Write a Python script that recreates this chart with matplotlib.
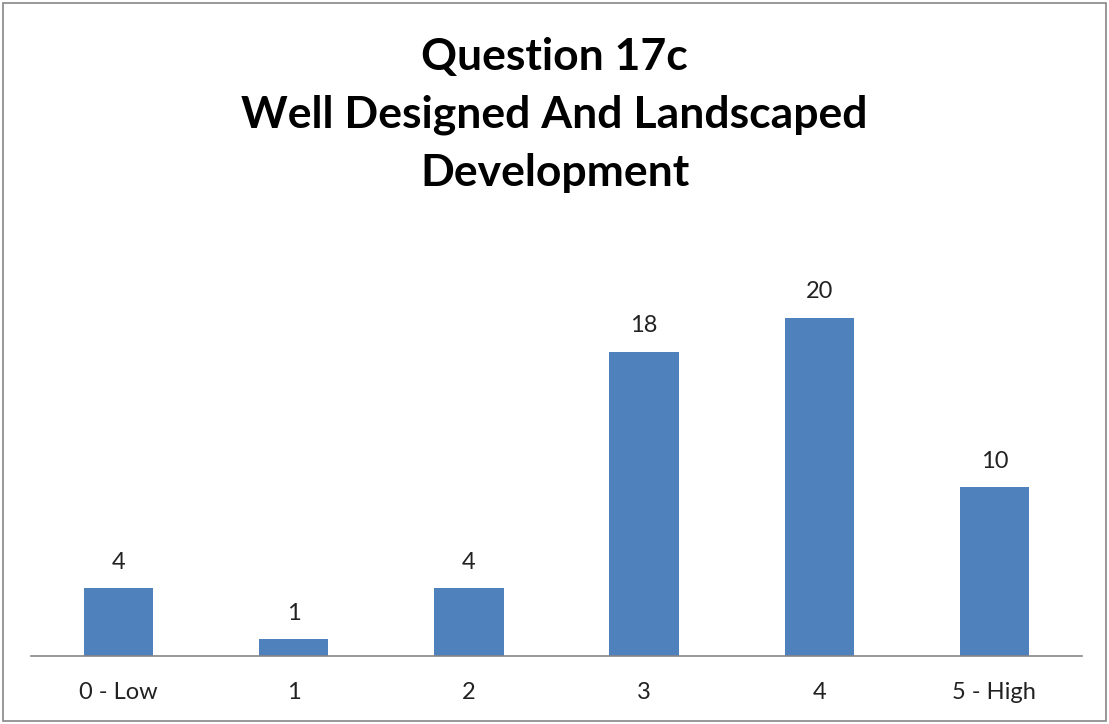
import matplotlib.pyplot as plt
from matplotlib.patches import Rectangle

categories = ['0 - Low', '1', '2', '3', '4', '5 - High']
counts = [4, 1, 4, 18, 20, 10]
title = 'Question 17c\nWell Designed And Landscaped\nDevelopment'

plt.rcParams['font.family'] = ['Lato', 'DejaVu Sans']

W, H = 1109, 724
fig = plt.figure(figsize=(W / 100, H / 100), dpi=100)

# plot area in pixels (from the reference)
x0, x1 = 31, 1082
y_axis, y_top = 656, 250
ax = fig.add_axes([x0 / W, (H - y_axis) / H, (x1 - x0) / W, (y_axis - y_top) / H])

xs = range(len(categories))
bars = ax.bar(xs, counts, width=0.395, color='#4F81BD')
ax.set_xlim(-0.5, len(categories) - 0.5)
ax.set_ylim(0, 24)

for b, v in zip(bars, counts):
    ax.annotate(str(v), (b.get_x() + b.get_width() / 2, v), xytext=(0, 11),
                textcoords='offset points', ha='center', va='bottom',
                fontsize=17, color='#222222')

ax.set_xticks(list(xs))
ax.set_xticklabels(categories, fontsize=17, color='#222222')
ax.tick_params(axis='x', length=0, pad=19)
ax.set_yticks([])
for s in ['left', 'right', 'top']:
    ax.spines[s].set_visible(False)
ax.spines['bottom'].set_color('#868686')
ax.spines['bottom'].set_linewidth(1.2)

fig.text(0.5, (H - 115) / H, title, ha='center', va='center',
         fontsize=32, fontweight='bold', linespacing=1.55)

# outer chart border
fig.patches.append(Rectangle((3 / W, 3 / H), (W - 6) / W, (H - 6) / H,
                             transform=fig.transFigure, fill=False,
                             edgecolor='#868686', linewidth=1.2))

fig.savefig('out.png', dpi=100)
